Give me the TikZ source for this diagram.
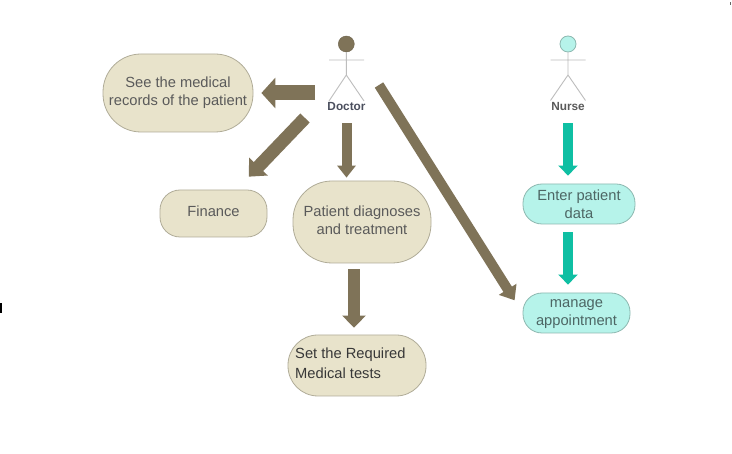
\documentclass[tikz,border=0pt]{standalone}
\usepackage{fontspec}
\setmainfont{Liberation Sans}
\usetikzlibrary{arrows.meta}
\definecolor{tanfill}{HTML}{E8E3CB}
\definecolor{tanline}{HTML}{B0AC98}
\definecolor{tealfill}{HTML}{B6F3EA}
\definecolor{tealline}{HTML}{8DB8B0}
\definecolor{brownarrow}{HTML}{7F7358}
\definecolor{tealarrow}{HTML}{0FBFA3}
\definecolor{greytext}{HTML}{5A5A5A}
\definecolor{tealtext}{HTML}{4D6664}
\definecolor{actortext}{HTML}{4B4F5E}
\definecolor{stick}{HTML}{BDBDBD}
\tikzset{
  x=1pt,y=-1pt,
  usecase/.style={draw=#1line,fill=#1fill,line width=0.8pt,align=center,inner sep=0pt,
    font=\fontsize{14.7}{18.3}\selectfont},
  tanbox/.style={usecase=tan,text=greytext},
  tealbox/.style={usecase=teal,text=tealtext},
  caption/.style={draw=none,fill=none,inner sep=0pt,align=center,
    font=\fontsize{14.7}{18.3}\selectfont},
  stickline/.style={draw=stick,line width=0.9pt},
  actorname/.style={font=\fontsize{11.8}{13}\selectfont\bfseries,text=actortext,inner sep=0pt},
  fat/.style n args={4}{draw=#1,line width=#2pt,
    -{Triangle[width=#3pt,length=#4pt,fill=#1]}},
}
\begin{document}
\begin{tikzpicture}
\useasboundingbox (0,0) rectangle (732,454);
\fill[white] (0,0) rectangle (732,454);

% use cases
\node[tanbox,minimum width=150pt,minimum height=78pt,rounded corners=38pt] (records) at (178,93) {};
\node[caption,text=greytext] (recordstext) at (178,93) {See the medical\\records of the patient};
\node[tanbox,minimum width=107pt,minimum height=47pt,rounded corners=20pt] (finance) at (213.5,213.5) {};
\node[caption,text=greytext] (financetext) at (213.5,211) {Finance};
\node[tanbox,minimum width=138pt,minimum height=82pt,rounded corners=39pt] (diag) at (362,222) {};
\node[caption,text=greytext] (diagtext) at (362,220) {Patient diagnoses\\and treatment};
\node[tanbox,minimum width=138pt,minimum height=61pt,rounded corners=30pt] (tests) at (357,365.5) {};
\node[caption,text=black!78,align=left,anchor=west] (teststext) at (295,363) {Set the Required\\[1.7pt]Medical tests};
\node[tealbox,minimum width=112pt,minimum height=40pt,rounded corners=19pt] (enter) at (579,204) {};
\node[caption,text=tealtext] (entertext) at (579,204) {Enter patient\\data};
\node[tealbox,minimum width=107pt,minimum height=40pt,rounded corners=19pt] (manage) at (576.5,313) {};
\node[caption,text=tealtext] (managetext) at (576.5,314) {manage\\appointment};

% actors
\node[circle,draw=brownarrow!85!black,fill=brownarrow,minimum size=16pt,inner sep=0pt] (dochead) at (346.3,44) {};
\coordinate (dochip) at (346.3,75);
\coordinate (docarml) at (329,60);
\coordinate (docarmr) at (364,60);
\coordinate (doclegl) at (329,101);
\coordinate (doclegr) at (364,101);
\path[stickline] (dochead.south) -- (dochip) -- (doclegl) (dochip) -- (doclegr) (docarml) -- (docarmr);
\node[actorname] (doctor) at (346.5,107) {Doctor};

\node[circle,draw=tealline,fill=tealfill,line width=0.8pt,minimum size=16pt,inner sep=0pt] (nurhead) at (568,44) {};
\coordinate (nurhip) at (568,75);
\coordinate (nurarml) at (550.5,60);
\coordinate (nurarmr) at (585.5,60);
\coordinate (nurlegl) at (550.5,100.5);
\coordinate (nurlegr) at (585.5,100.5);
\path[stickline] (nurhead.south) -- (nurhip) -- (nurlegl) (nurhip) -- (nurlegr) (nurarml) -- (nurarmr);
\node[actorname,text=greytext] (nurse) at (568,107) {Nurse};

% arrows
\coordinate (leftfrom) at (315,93);
\coordinate (diagfrom) at (305,118);
\coordinate (longfrom) at (379,85);
\path[fat={brownarrow}{15}{30}{14}] (leftfrom) -- ([xshift=8pt]records.east);
\path[fat={brownarrow}{13}{25}{14},shorten >=51pt] (diagfrom) -- (finance.center);
\path[fat={brownarrow}{10}{18}{12},shorten <=12pt,shorten >=3pt] (doctor.south) -- (doctor.south |- diag.north);
\path[fat={brownarrow}{12}{23}{12},shorten <=6pt,shorten >=7pt] ([xshift=-8pt]diag.south) -- ([xshift=-8pt]diag.south |- tests.north);
\path[fat={brownarrow}{10}{20}{13},shorten >=15pt] (longfrom) -- (manage.west);
\path[fat={tealarrow}{10.5}{19}{10},shorten <=12pt,shorten >=8pt] (nurse.south) -- (nurse.south |- enter.north);
\path[fat={tealarrow}{10.5}{19}{10},shorten <=8pt,shorten >=8pt] ([xshift=-11pt]enter.south) -- ([xshift=-11pt]enter.south |- manage.north);

% scan specks at the edges
\fill[black] (0,303) rectangle (1.5,313);
\fill[black!60] (730,2) rectangle (731,5);
\end{tikzpicture}
\end{document}
